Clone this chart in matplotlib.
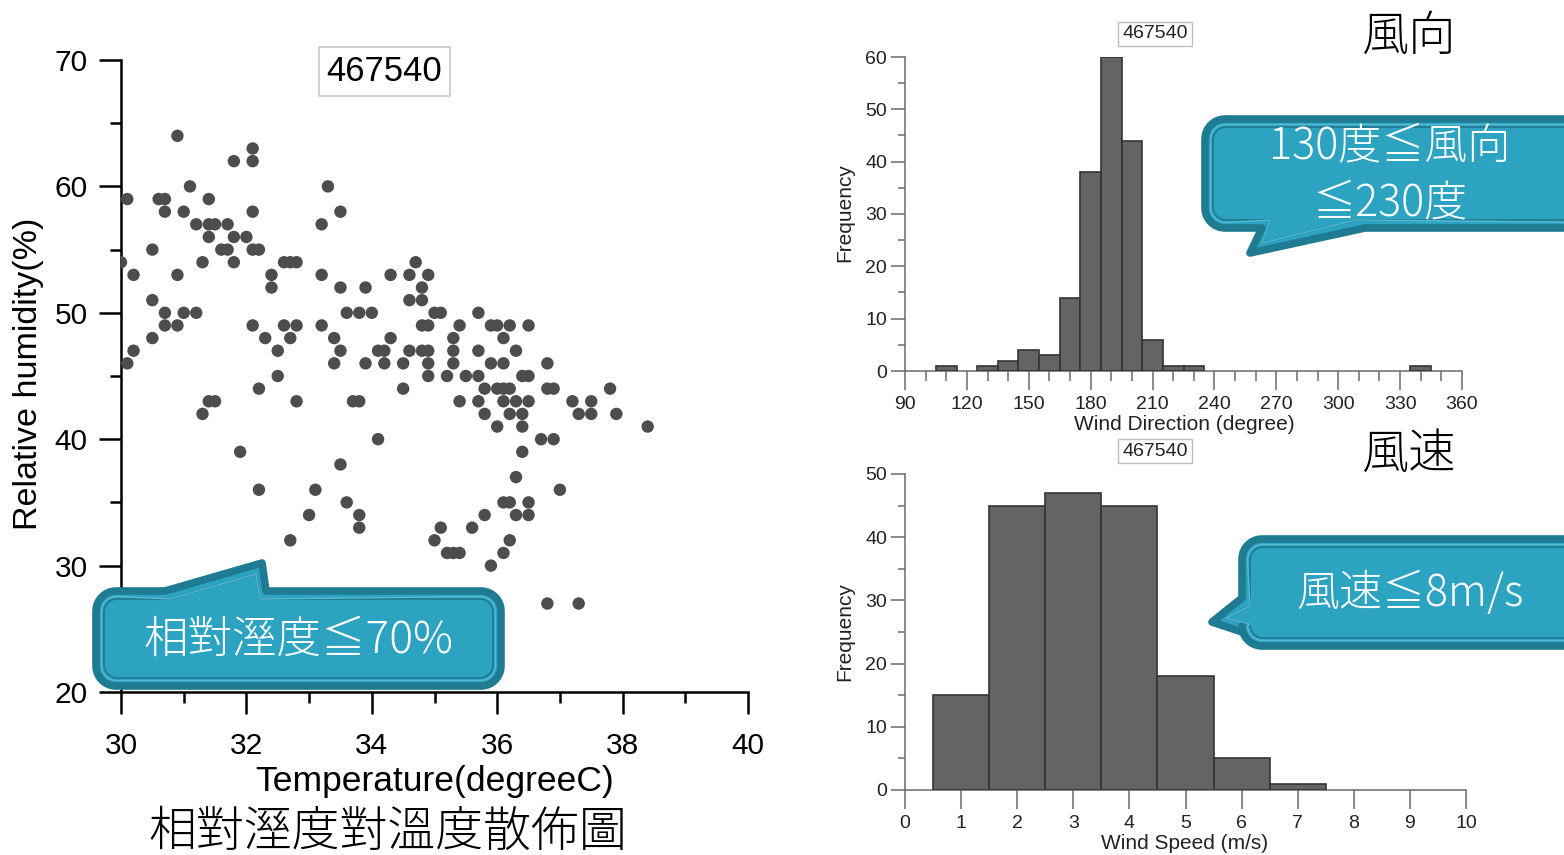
import numpy as np
import matplotlib
matplotlib.use('Agg')
import matplotlib.pyplot as plt
from matplotlib import font_manager as fm
from matplotlib.patches import Polygon

# 散佈圖資料: 溫度(°C) 與 相對溼度(%)
temp_c = [30.9,
          32.1,
          31.8, 32.1,
          31.1, 33.3,
          30.1, 30.6, 30.7, 31.4,
          30.7, 31.0, 32.1, 33.5,
          31.2, 31.4, 31.5, 31.7, 33.2,
          31.4, 31.8, 32.0,
          30.5, 31.6, 31.7, 32.1, 32.2,
          30.0, 31.3, 31.8, 32.6, 32.7, 32.8, 34.7,
          30.2, 30.9, 32.4, 33.2, 34.3, 34.6, 34.9,
          32.4, 33.5, 33.9, 34.8,
          30.5, 34.6, 34.8,
          30.7, 31.0, 31.2, 33.6, 33.8, 34.0, 35.0, 35.1, 35.7,
          30.7, 30.9, 32.1, 32.6, 32.8, 33.2, 34.8, 34.9, 35.4, 35.9, 36.0, 36.2, 36.5,
          30.5, 32.3, 32.7, 33.4, 34.3, 35.3, 36.1,
          30.2, 32.5, 33.5, 34.1, 34.2, 34.6, 34.8, 34.9, 35.3, 35.7, 36.3,
          30.1, 33.4, 33.9, 34.2, 34.5, 34.9, 35.3, 35.9, 36.1, 36.8,
          32.5, 34.9, 35.2, 35.5, 35.7, 36.4, 36.5,
          32.2, 34.5, 35.8, 36.0, 36.1, 36.2, 36.8, 36.9, 37.8,
          31.4, 31.5, 32.8, 33.7, 33.8, 35.4, 35.7, 36.1, 36.3, 36.5, 37.2, 37.5,
          31.3, 35.8, 36.2, 36.4, 37.3, 37.5, 37.9,
          36.0, 36.4, 38.4,
          34.1, 36.7, 36.9,
          31.9, 36.4,
          33.5,
          36.3,
          32.2, 33.1, 37.0,
          33.6, 36.1, 36.2, 36.5,
          33.0, 33.8, 35.8, 36.3, 36.5,
          33.8, 35.1, 35.6,
          32.7, 35.0, 36.2,
          35.2, 35.3, 35.4, 36.1,
          35.9,
          36.8, 37.3]
rh_pct = [64,
          63,
          62, 62,
          60, 60,
          59, 59, 59, 59,
          58, 58, 58, 58,
          57, 57, 57, 57, 57,
          56, 56, 56,
          55, 55, 55, 55, 55,
          54, 54, 54, 54, 54, 54, 54,
          53, 53, 53, 53, 53, 53, 53,
          52, 52, 52, 52,
          51, 51, 51,
          50, 50, 50, 50, 50, 50, 50, 50, 50,
          49, 49, 49, 49, 49, 49, 49, 49, 49, 49, 49, 49, 49,
          48, 48, 48, 48, 48, 48, 48,
          47, 47, 47, 47, 47, 47, 47, 47, 47, 47, 47,
          46, 46, 46, 46, 46, 46, 46, 46, 46, 46,
          45, 45, 45, 45, 45, 45, 45,
          44, 44, 44, 44, 44, 44, 44, 44, 44,
          43, 43, 43, 43, 43, 43, 43, 43, 43, 43, 43, 43,
          42, 42, 42, 42, 42, 42, 42,
          41, 41, 41,
          40, 40, 40,
          39, 39,
          38,
          37,
          36, 36, 36,
          35, 35, 35, 35,
          34, 34, 34, 34, 34,
          33, 33, 33,
          32, 32, 32,
          31, 31, 31, 31,
          30,
          27, 27]

# 風向直方圖 (每 10 度一組)
dir_centers = [110, 130, 140, 150, 160, 170, 180, 190, 200, 210, 220, 230, 340]
dir_counts = [1, 1, 2, 4, 3, 14, 38, 60, 44, 6, 1, 1, 1]

# 風速直方圖 (每 1 m/s 一組)
spd_centers = [1, 2, 3, 4, 5, 6, 7]
spd_counts = [15, 45, 47, 45, 18, 5, 1]

station = '467540'

names = {f.name for f in fm.fontManager.ttflist}
sans = 'Liberation Sans' if 'Liberation Sans' in names else 'DejaVu Sans'
narrow = sans
cjk = ['Noto Sans CJK JP', 'Noto Sans CJK TC', 'DejaVu Sans']
cjk_w = 300

W, H = 1564, 855
fig = plt.figure(figsize=(W / 100, H / 100), dpi=100)

# ---------- 散佈圖 ----------
ax = fig.add_axes([121 / W, 1 - 692 / H, 627 / W, 632 / H])
ax.scatter(temp_c, rh_pct, s=80, color='#4d4d4d', edgecolors='none', zorder=3)
ax.set_xlim(30, 40)
ax.set_ylim(20, 70)
ax.set_xticks(np.arange(30, 41, 2))
ax.set_xticks(np.arange(31, 40, 2), minor=True)
ax.set_yticks(np.arange(20, 71, 10))
ax.set_yticks(np.arange(25, 70, 10), minor=True)
for s in ['top', 'right']:
    ax.spines[s].set_visible(False)
for s in ['left', 'bottom']:
    ax.spines[s].set_linewidth(1.8)
ax.tick_params(which='major', direction='out', length=16, width=1.8,
               labelsize=21.5, pad=8)
ax.tick_params(which='minor', direction='out', length=8, width=1.8)
ax.tick_params(axis='x', which='major', pad=13)
for lb in ax.get_xticklabels() + ax.get_yticklabels():
    lb.set_fontfamily(sans)
ax.set_xlabel('Temperature(degreeC)', fontsize=25.5, fontfamily=sans)
ax.set_ylabel('Relative humidity(%)', fontsize=24.5, fontfamily=sans)
ax.xaxis.set_label_coords(0.50, -0.142)
ax.xaxis.label.set_va('center')
ax.yaxis.set_label_coords(-0.148, 0.503)
ax.yaxis.label.set_va('center')
ax.yaxis.label.set_ha('center')
ax.text(0.42, 0.982, station, transform=ax.transAxes, ha='center', va='center',
        fontsize=25, fontfamily=sans,
        bbox=dict(boxstyle='square,pad=0.22', fc='white', ec='#c8c8c8', lw=1.2))


def hist_axes(rect, centers, counts, width, xlim, ylim, xmaj, xmin, ymaj, ymin,
              xlabel):
    h = fig.add_axes(rect)
    h.bar(centers, counts, width=width, color='#646464', edgecolor='#333333',
          linewidth=1.2, zorder=3)
    h.set_xlim(*xlim)
    h.set_ylim(*ylim)
    h.set_xticks(xmaj)
    if xmin is not None:
        h.set_xticks(xmin, minor=True)
    h.set_yticks(ymaj)
    h.set_yticks(ymin, minor=True)
    for s in ['top', 'right']:
        h.spines[s].set_visible(False)
    for s in ['left', 'bottom']:
        h.spines[s].set_linewidth(1.1)
        h.spines[s].set_color('#6a6a6a')
    h.tick_params(which='both', direction='out', color='#6a6a6a', width=1.1,
                  labelsize=14, labelcolor='#222222')
    h.tick_params(axis='y', which='major', length=10, pad=3)
    h.tick_params(axis='y', which='minor', length=5)
    h.tick_params(axis='x', which='major', length=14, pad=4)
    h.tick_params(axis='x', which='minor', length=7)
    for lb in h.get_xticklabels() + h.get_yticklabels():
        lb.set_fontfamily(narrow)
    h.set_xlabel(xlabel, fontsize=15, fontfamily=narrow, color='#222222')
    h.set_ylabel('Frequency', fontsize=15, fontfamily=narrow, color='#222222')
    h.yaxis.label.set_va('center')
    h.yaxis.label.set_ha('center')
    h.xaxis.label.set_va('center')
    return h


h1 = hist_axes([905 / W, 1 - 371 / H, 557 / W, 314 / H], dir_centers, dir_counts,
               10, (90, 360), (0, 60), np.arange(90, 361, 30),
               np.arange(100, 360, 10), np.arange(0, 61, 10), np.arange(5, 60, 10),
               'Wind Direction (degree)')
h1.xaxis.set_label_coords(0.501, -0.169)
h1.yaxis.set_label_coords(-0.108, 0.503)

h2 = hist_axes([905 / W, 1 - 790 / H, 561 / W, 316 / H], spd_centers, spd_counts,
               1, (0, 10), (0, 50), np.arange(0, 11, 1), None,
               np.arange(0, 51, 10), np.arange(5, 50, 10), 'Wind Speed (m/s)')
h2.xaxis.set_label_coords(0.499, -0.168)
h2.yaxis.set_label_coords(-0.107, 0.50)

# ---------- 疊加層: 標題、說明框 ----------
ov = fig.add_axes([0, 0, 1, 1], zorder=10)
ov.set_xlim(0, W)
ov.set_ylim(H, 0)
ov.axis('off')
ov.patch.set_alpha(0)

for yc in (34, 451):
    ov.text(1155, yc, station, ha='center', va='center', fontsize=14,
            fontfamily=narrow, color='#222222',
            bbox=dict(boxstyle='square,pad=0.2', fc='white', ec='#bdbdbd', lw=1))

ov.text(1408, 36, '風向', ha='center', va='center', fontsize=34, family=cjk,
        fontweight=cjk_w)
ov.text(1408, 454, '風速', ha='center', va='center', fontsize=34, family=cjk,
        fontweight=cjk_w)
ov.text(388, 832, '相對溼度對溫度散佈圖', ha='center', va='center', fontsize=34.5,
        family=cjk, fontweight=cjk_w)

FILL = '#2ca3c1'
EDGE = '#1f7b92'


def arc(cx, cy, r, a0, a1):
    t = np.radians(np.linspace(a0, a1, 10))
    return [(cx + r * np.cos(a), cy + r * np.sin(a)) for a in t]


def callout(x0, y0, x1, y1, r, side, tail):
    pts = arc(x0 + r, y0 + r, r, 180, 270)
    if side == 'top':
        pts += tail
    pts += arc(x1 - r, y0 + r, r, 270, 360)
    pts += arc(x1 - r, y1 - r, r, 0, 90)
    if side == 'bottom':
        pts += tail
    pts += arc(x0 + r, y1 - r, r, 90, 180)
    if side == 'left':
        pts += tail
    return pts


def draw_callout(x0, y0, x1, y1, side, tail, inner_tail):
    ov.add_patch(Polygon(callout(x0, y0, x1, y1, 20, side, tail), closed=True,
                         fc=FILL, ec=EDGE, lw=5.5, joinstyle='round'))
    d = 8
    ov.add_patch(Polygon(callout(x0 + d, y0 + d, x1 - d, y1 - d, 13, side,
                                 inner_tail), closed=True, fc='none', ec=EDGE,
                         lw=1.3, joinstyle='round'))
    ov.add_patch(Polygon(callout(x0 + d - 2.5, y0 + d - 2.5, x1 - d + 2.5,
                                 y1 - d + 2.5, 15, side, inner_tail), closed=True,
                         fc='none', ec='#56b9d2', lw=1.0, joinstyle='round'))


draw_callout(96, 591, 501, 686, 'top',
             [(165, 591), (262, 563), (266, 591)],
             [(170, 599), (256, 574), (260, 599)])
ov.text(298, 640, '相對溼度≦70%', ha='center', va='center', fontsize=32,
        color='white', family=cjk, fontweight=cjk_w)

draw_callout(1205, 119, 1620, 228, 'bottom',
             [(1365, 228), (1250, 253), (1262, 228)],
             [(1355, 220), (1262, 243), (1270, 220)])
ov.text(1390, 147, '130度≦風向', ha='center', va='center', fontsize=31,
        color='white', family=cjk, fontweight=cjk_w)
ov.text(1390, 204, '≦230度', ha='center', va='center', fontsize=31,
        color='white', family=cjk, fontweight=cjk_w)

draw_callout(1242, 539, 1620, 646, 'left',
             [(1242, 632), (1212, 622), (1242, 598)],
             [(1250, 624), (1226, 618), (1250, 606)])
ov.text(1410, 593, '風速≦8m/s', ha='center', va='center', fontsize=31,
        color='white', family=cjk, fontweight=cjk_w)

fig.savefig('out.png', dpi=100)
